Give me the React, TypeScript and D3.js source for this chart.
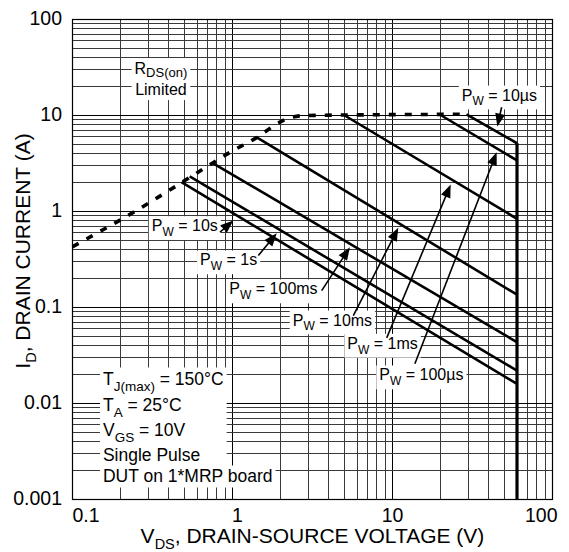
import { useEffect, useRef } from 'react';
import * as d3 from 'd3';

const FONT = '"Liberation Sans", Arial, Helvetica, sans-serif';

// pulse widths, ordered top line to bottom line
const pulseNames = ['10µs', '100µs', '1ms', '10ms', '100ms', '1s', '10s'];
const pulseStartV = [29, 20.2, 5.03, 1.41, 0.757, 0.54, 0.48];
const pulseStartI = [10.3, 10, 10, 5.94, 3.18, 2.32, 2.02];
const pulseEndI = [5.14, 3.4, 0.84, 0.136, 0.0435, 0.022, 0.016];
const bvdss = 60;

// RDS(on) limit (dashed)
const rdsV = [0.1, 0.245, 0.606, 0.96, 1.42, 1.9, 2.3, 2.9, 29];
const rdsI = [0.43, 1.0, 2.55, 4.12, 5.9, 8.2, 9.5, 10, 10.3];

// annotation arrows and label anchors (data coords)
const arrowTailV = [48.1, 13.8, 9.2, 5.69, 3.61, 1.45, 0.835];
const arrowTailI = [12.2, 0.0259, 0.0483, 0.0825, 0.15, 0.348, 0.609];
const arrowTipV = [45.2, 44.8, 23.1, 10.87, 5.42, 1.89, 1.012];
const arrowTipI = [7.68, 4.15, 1.91, 0.676, 0.425, 0.594, 0.806];
const labelV = [27.1, 8.27, 5.22, 2.38, 0.956, 0.627, 0.313];
const labelI = [14.3, 0.01737, 0.0371, 0.0649, 0.1366, 0.274, 0.623];

const xTicks = [0.1, 1, 10, 100];
const xTickLabels = ['0.1', '1', '10', '100'];
const yTicks = [100, 10, 1, 0.1, 0.01, 0.001];
const yTickLabels = ['100', '10', '1', '0.1', '0.01', '0.001'];

const condLines: [string, boolean][][] = [
  [['T', false], ['J(max)', true], [' = 150°C', false]],
  [['T', false], ['A', true], [' = 25°C', false]],
  [['V', false], ['GS', true], [' = 10V', false]],
  [['Single Pulse', false]],
  [['DUT on 1*MRP board', false]],
];
const condOffsets = [0, 26, 51, 76, 97];

export default function App() {
  const ref = useRef<SVGSVGElement>(null);

  useEffect(() => {
    const svg = d3.select(ref.current);
    svg.selectAll('*').remove();

    const x = d3.scaleLog().domain([0.1, 100]).range([72.5, 552.5]);
    const y = d3.scaleLog().domain([0.001, 100]).range([499.5, 19.5]);
    const crisp = (v: number) => Math.floor(v) + 0.5;
    const isDecade = (d: number) => Math.abs(Math.log10(d) - Math.round(Math.log10(d))) < 1e-6;

    svg.append('rect').attr('width', 569).attr('height', 552).attr('fill', '#fff');

    const grid = svg.append('g');
    const boxes = svg.append('g');
    const texts = svg.append('g').attr('font-family', FONT).attr('fill', '#000');
    const curves = svg.append('g').attr('fill', 'none').attr('stroke', '#000');
    const arrows = svg.append('g');

    grid.selectAll('line.v').data(x.ticks()).join('line')
      .attr('x1', d => crisp(x(d))).attr('x2', d => crisp(x(d)))
      .attr('y1', y(100)).attr('y2', y(0.001))
      .attr('stroke', d => (isDecade(d) ? '#000' : '#3a3a3a')).attr('stroke-width', 1);
    grid.selectAll('line.h').data(y.ticks()).join('line')
      .attr('y1', d => crisp(y(d))).attr('y2', d => crisp(y(d)))
      .attr('x1', x(0.1)).attr('x2', x(100))
      .attr('stroke', d => (isDecade(d) ? '#000' : '#3a3a3a')).attr('stroke-width', 1);
    grid.append('rect')
      .attr('x', x(0.1)).attr('y', y(100))
      .attr('width', x(100) - x(0.1)).attr('height', y(0.001) - y(100))
      .attr('fill', 'none').attr('stroke', '#000').attr('stroke-width', 1.2);

    const addText = (parent: any, px: number, py: number, parts: [string, boolean][],
      size: number, sub: number, anchor = 'start', shift = 0.3) => {
      const t = parent.append('text').attr('x', px).attr('y', py)
        .attr('font-size', size).attr('text-anchor', anchor).style('white-space', 'pre');
      let shifted = false;
      parts.forEach(([s, isSub]) => {
        const ts = t.append('tspan').text(s);
        if (isSub) {
          ts.attr('font-size', sub);
          if (!shifted) { ts.attr('dy', size * shift); shifted = true; }
        } else if (shifted) {
          ts.attr('dy', -size * shift); shifted = false;
        }
      });
      return t;
    };

    const boxBehind = (nodes: any[], padX: number, padY: number) => {
      let x0 = Infinity, y0 = Infinity, x1 = -Infinity, y1 = -Infinity;
      nodes.forEach(n => {
        const b = n.node().getBBox();
        x0 = Math.min(x0, b.x); y0 = Math.min(y0, b.y);
        x1 = Math.max(x1, b.x + b.width); y1 = Math.max(y1, b.y + b.height);
      });
      boxes.append('rect')
        .attr('x', x0 - padX).attr('y', y0 - padY)
        .attr('width', x1 - x0 + 2 * padX).attr('height', y1 - y0 + 2 * padY)
        .attr('fill', '#fff');
    };

    // RDS(on) label
    const rx = x(0.357), ry = y(27);
    const r1 = addText(texts, rx, ry, [['R', false], ['DS(on)', true]], 16, 13, 'middle', 0.19);
    const r2 = addText(texts, rx, ry + 21, [['Limited', false]], 16, 13, 'middle');
    boxBehind([r1, r2], 3, 2);

    // pulse width labels
    pulseNames.forEach((name, i) => {
      const t = addText(texts, x(labelV[i]), y(labelI[i]),
        [['P', false], ['W', true], [' = ' + name, false]], 16, 12);
      boxBehind([t], 3, 1);
    });

    // conditions
    const cx = x(0.155), cy = y(0.0154);
    const condNodes = condLines.map((parts, i) => addText(texts, cx, cy + condOffsets[i], parts, 17.5, 13.5));
    boxBehind(condNodes.slice(0, 4), 3, 2);
    boxBehind(condNodes.slice(4), 3, 1);

    // curves
    const line = d3.line<[number, number]>().x(d => x(d[0])).y(d => y(d[1]));
    curves.append('path')
      .attr('d', d3.line<[number, number]>().x(d => x(d[0])).y(d => y(d[1])).curve(d3.curveMonotoneX)(
        rdsV.map((v, i) => [v, rdsI[i]] as [number, number])))
      .attr('stroke-width', 3.6).attr('stroke-dasharray', '7,9');
    pulseNames.forEach((_, i) => {
      curves.append('path')
        .attr('d', line([[pulseStartV[i], pulseStartI[i]], [bvdss, pulseEndI[i]]]))
        .attr('stroke-width', 2.6);
    });
    curves.append('path')
      .attr('d', line([[bvdss, pulseEndI[0]], [bvdss, 0.001]]))
      .attr('stroke-width', 3.2);

    // arrows
    pulseNames.forEach((_, i) => {
      const tx = x(arrowTailV[i]), ty = y(arrowTailI[i]);
      const hx = x(arrowTipV[i]), hy = y(arrowTipI[i]);
      const len = Math.hypot(hx - tx, hy - ty);
      const ux = (hx - tx) / len, uy = (hy - ty) / len;
      const hl = 13, hw = 5;
      const bx = hx - ux * hl, by = hy - uy * hl;
      arrows.append('line')
        .attr('x1', tx).attr('y1', ty).attr('x2', bx + ux * 2).attr('y2', by + uy * 2)
        .attr('stroke', '#000').attr('stroke-width', 1.6);
      arrows.append('polygon')
        .attr('points', `${hx},${hy} ${bx - uy * hw},${by + ux * hw} ${bx + uy * hw},${by - ux * hw}`)
        .attr('fill', '#000');
    });

    // tick labels
    const axes = svg.append('g').attr('font-family', FONT).attr('fill', '#000');
    axes.selectAll('text.yt').data(yTicks).join('text')
      .attr('x', 62).attr('y', d => y(d) + 5.5)
      .attr('text-anchor', 'end').attr('font-size', 19.5)
      .text((_, i) => yTickLabels[i]);
    const xAnchor = ['start', 'middle', 'middle', 'end'];
    const xShift = [0, 5, 0, 5];
    axes.selectAll('text.xt').data(xTicks).join('text')
      .attr('x', (d, i) => x(d) + xShift[i]).attr('y', 521.5)
      .attr('text-anchor', (_, i) => xAnchor[i]).attr('font-size', 19.5)
      .text((_, i) => xTickLabels[i]);

    // axis titles
    addText(axes, 312.5, 543, [['V', false], ['DS', true], [', DRAIN-SOURCE VOLTAGE (V)', false]], 21, 14.5, 'middle');
    addText(axes.append('g').attr('transform', 'translate(30,251) rotate(-90)'), 0, 0,
      [['I', false], ['D', true], [', DRAIN CURRENT (A)', false]], 21, 14.5, 'middle');
  }, []);

  return (
    <svg ref={ref} width={569} height={552}
      style={{ position: 'absolute', left: 0, top: 0, display: 'block' }} />
  );
}
